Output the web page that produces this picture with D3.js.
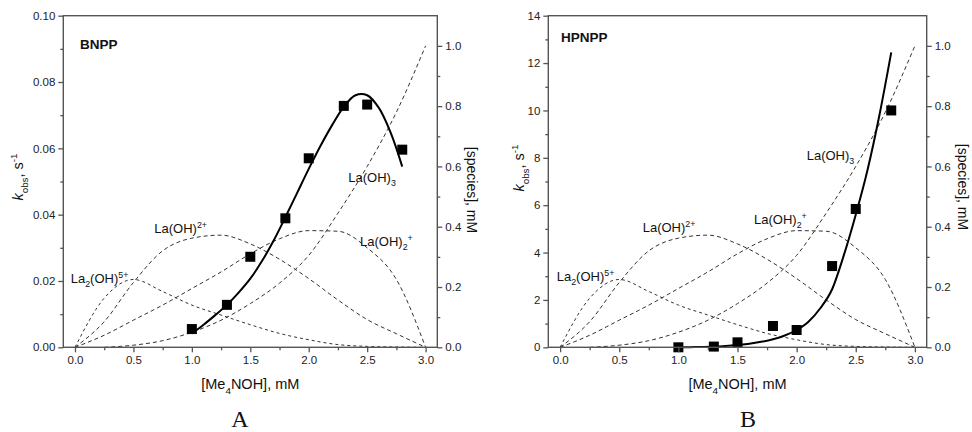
<!DOCTYPE html>
<html>
<head>
<meta charset="utf-8">
<script src="https://cdn.jsdelivr.net/npm/d3@7"></script>
<style>
  body { margin: 0; background: #fff; }
  text { font-family: "Liberation Sans", Arial, sans-serif; }
</style>
</head>
<body>
<svg id="chart" width="972" height="432"></svg>
<script>
// ---- Speciation of La(III) vs. added Me4NOH (right axis, mM) ----
const speciesX = [0, 0.25, 0.5, 0.75, 1.0, 1.25, 1.5, 1.75, 2.0, 2.25, 2.5, 2.75, 3.0];
const la2OH5   = [0, 0.163, 0.225, 0.185, 0.14, 0.107, 0.075, 0.046, 0.025, 0.009, 0.003, 0.001, 0];
const laOH2    = [0, 0.085, 0.215, 0.32, 0.362, 0.372, 0.343, 0.292, 0.228, 0.157, 0.092, 0.045, 0];
const laOH2p   = [0, 0.04, 0.09, 0.14, 0.195, 0.25, 0.31, 0.36, 0.387, 0.385, 0.33, 0.225, 0];
const laOH3    = [null, 0, 0.007, 0.022, 0.05, 0.09, 0.145, 0.213, 0.305, 0.445, 0.6, 0.78, 1.0];

// ---- Observed rate constants (left axis) ----
const baseX     = [1.0, 1.3, 1.5, 1.8, 2.0, 2.3, 2.5, 2.8];
const bnppKobs  = [0.0055, 0.0128, 0.0273, 0.0389, 0.057, 0.0728, 0.0732, 0.0596];
const hpnppKobs = [0.0, 0.03, 0.21, 0.9, 0.73, 3.43, 5.84, 10.0];

// ---- Fitted curves ----
const fitX     = [1.0, 1.1, 1.2, 1.3, 1.4, 1.5, 1.6, 1.7, 1.8, 1.9, 2.0, 2.1, 2.2, 2.3, 2.4, 2.5, 2.6, 2.7, 2.8];
const bnppFit  = [0.0042, 0.0068, 0.0097, 0.0128, 0.0165, 0.0207, 0.026, 0.0322, 0.0392, 0.0465, 0.0538, 0.0607, 0.0670, 0.0725, 0.0760, 0.0760, 0.0722, 0.0648, 0.0545];
const hpnppFit = [0, 0.005, 0.015, 0.03, 0.06, 0.1, 0.15, 0.23, 0.34, 0.5, 0.73, 1.08, 1.65, 2.45, 3.9, 5.6, 7.5, 9.8, 12.45];

// ---- Axis ticks ----
const xMajor = [0, 0.5, 1.0, 1.5, 2.0, 2.5, 3.0];
const xMinor = [0.25, 0.75, 1.25, 1.75, 2.25, 2.75];
const rMajor = [0, 0.2, 0.4, 0.6, 0.8, 1.0];
const rMinor = [0.1, 0.3, 0.5, 0.7, 0.9];
const bnppMajor = [0, 0.02, 0.04, 0.06, 0.08, 0.10];
const bnppMinor = [0.01, 0.03, 0.05, 0.07, 0.09];
const hpnppMajor = [0, 2, 4, 6, 8, 10, 12, 14];
const hpnppMinor = [1, 3, 5, 7, 9, 11, 13];

const svg = d3.select("#chart");

// text with sub/superscript parts: [text, kind] where kind is "", "sub", "sup", "i"
function rich(g, x, y, parts, size, attrs = {}) {
  const t = g.append("text").attr("x", x).attr("y", y).attr("font-size", size).attr("fill", "#111");
  Object.entries(attrs).forEach(([k, v]) => t.attr(k, v));
  let shift = 0;
  parts.forEach(([s, kind]) => {
    const sp = t.append("tspan").text(s);
    let target = 0;
    if (kind === "sub") { target = size * 0.32; sp.attr("font-size", size * 0.68); }
    else if (kind === "sup") { target = -size * 0.42; sp.attr("font-size", size * 0.68); }
    else if (kind === "i") { sp.attr("font-style", "italic"); }
    if (target !== shift) { sp.attr("dy", target - shift); shift = target; }
  });
  return t;
}

function panel(cfg) {
  const g = svg.append("g");
  const x = d3.scaleLinear().domain([-0.1, 3.1]).range([cfg.left, cfg.right]);
  const yL = d3.scaleLinear().domain(cfg.yDomain).range([cfg.bottom, cfg.top]);
  const yR = d3.scaleLinear().domain([0, 1.1]).range([cfg.bottom, cfg.top]);

  // species (dashed)
  const sLine = d3.line().defined(d => d[1] !== null)
    .x(d => x(d[0])).y(d => yR(d[1])).curve(d3.curveMonotoneX);
  [la2OH5, laOH2, laOH2p, laOH3].forEach((arr, i) => {
    g.append("path")
      .attr("d", sLine(speciesX.map((v, j) => [v, arr[j]])))
      .attr("fill", "none").attr("stroke", "#333").attr("stroke-width", 1)
      .attr("stroke-dasharray", i === 0 ? "3,3" : "4,3");
  });

  // fitted curve
  const fLine = d3.line().x(d => x(d[0])).y(d => yL(d[1])).curve(cfg.fitCurve);
  g.append("path")
    .attr("d", fLine(fitX.map((v, j) => [v, cfg.fit[j]])))
    .attr("fill", "none").attr("stroke", "#000").attr("stroke-width", 2);

  // data squares
  const sq = 10;
  g.selectAll("rect.pt").data(baseX.map((v, j) => [v, cfg.obs[j]])).join("rect")
    .attr("x", d => x(d[0]) - sq / 2).attr("y", d => yL(d[1]) - sq / 2)
    .attr("width", sq).attr("height", sq).attr("fill", "#000");

  // axes
  const fontSize = 11.5;
  function styleAxis(sel) {
    sel.select(".domain").remove();
    sel.selectAll("line").attr("stroke", "#555").attr("stroke-width", 1.3);
    sel.selectAll("text").attr("font-size", fontSize).attr("fill", "#222")
      .attr("font-family", null);
  }
  g.append("g").attr("transform", `translate(0,${cfg.bottom})`)
    .call(d3.axisBottom(x).tickValues(xMajor).tickSize(5).tickPadding(4).tickFormat(d3.format(".1f"))).call(styleAxis);
  g.append("g").attr("transform", `translate(0,${cfg.bottom})`)
    .call(d3.axisBottom(x).tickValues(xMinor).tickSize(3).tickFormat("")).call(styleAxis);
  g.append("g").attr("transform", `translate(${cfg.left},0)`)
    .call(d3.axisLeft(yL).tickValues(cfg.yMajor).tickSize(5).tickPadding(3).tickFormat(cfg.yFormat)).call(styleAxis);
  g.append("g").attr("transform", `translate(${cfg.left},0)`)
    .call(d3.axisLeft(yL).tickValues(cfg.yMinor).tickSize(3).tickFormat("")).call(styleAxis);
  g.append("g").attr("transform", `translate(${cfg.right},0)`)
    .call(d3.axisRight(yR).tickValues(rMajor).tickSize(5).tickPadding(3).tickFormat(d3.format(".1f"))).call(styleAxis);
  g.append("g").attr("transform", `translate(${cfg.right},0)`)
    .call(d3.axisRight(yR).tickValues(rMinor).tickSize(3).tickFormat("")).call(styleAxis);

  // frame
  g.append("rect").attr("x", cfg.left).attr("y", cfg.top)
    .attr("width", cfg.right - cfg.left).attr("height", cfg.bottom - cfg.top)
    .attr("fill", "none").attr("stroke", "#555").attr("stroke-width", 1.4);

  // titles
  g.append("text").attr("x", cfg.tagX).attr("y", cfg.tagY).attr("font-size", 13.5)
    .attr("font-weight", "bold").attr("fill", "#111").text(cfg.tag);

  const cx = (cfg.left + cfg.right) / 2;
  rich(g, cx, 389, [["[Me", ""], ["4", "sub"], ["NOH], mM", ""]], 14.5, { "text-anchor": "middle" });

  const yl = rich(g, 0, 0, [["k", "i"], ["obs", "sub"], [", s", ""], ["-1", "sup"]], 14.5, { "text-anchor": "middle" });
  yl.attr("transform", `translate(${cfg.yLabelX},${cfg.yLabelY}) rotate(-90)`);

  const yr = rich(g, 0, 0, [["[species], mM", ""]], 14, { "text-anchor": "middle" });
  yr.attr("transform", `translate(${cfg.rLabelX},${cfg.rLabelY}) rotate(90)`);

  // species labels
  const L = cfg.labels;
  rich(g, L.la2[0], L.la2[1], [["La", ""], ["2", "sub"], ["(OH)", ""], ["5+", "sup"]], 13);
  rich(g, L.laOH[0], L.laOH[1], [["La(OH)", ""], ["2+", "sup"]], 13);
  rich(g, L.laOH2[0], L.laOH2[1], [["La(OH)", ""], ["2", "sub"], ["+", "sup"]], 13);
  rich(g, L.laOH3[0], L.laOH3[1], [["La(OH)", ""], ["3", "sub"]], 13);

  svg.append("text").attr("x", cfg.letterX).attr("y", 427).attr("text-anchor", "middle")
    .style("font-family", "'Liberation Serif', 'Times New Roman', serif").attr("font-size", 24)
    .attr("fill", "#111").text(cfg.letter);
}

panel({
  left: 63.3, right: 437.3, top: 15.7, bottom: 347.3,
  yDomain: [0, 0.10], yMajor: bnppMajor, yMinor: bnppMinor, yFormat: d3.format(".2f"),
  fit: bnppFit, obs: bnppKobs, fitCurve: d3.curveCatmullRom.alpha(0.5),
  tag: "BNPP", tagX: 80, tagY: 49,
  yLabelX: 23, yLabelY: 177, rLabelX: 467, rLabelY: 190,
  labels: { la2: [70.7, 283], laOH: [154.3, 233], laOH2: [360, 246], laOH3: [348.3, 182] },
  letter: "A", letterX: 240
});

panel({
  left: 548.3, right: 926.7, top: 15.7, bottom: 347.3,
  yDomain: [0, 14], yMajor: hpnppMajor, yMinor: hpnppMinor, yFormat: d3.format("d"),
  fit: hpnppFit, obs: hpnppKobs, fitCurve: d3.curveMonotoneX,
  tag: "HPNPP", tagX: 561, tagY: 41.5,
  yLabelX: 524, yLabelY: 168, rLabelX: 958, rLabelY: 187,
  labels: { la2: [556.7, 281], laOH: [642.7, 232], laOH2: [754, 224], laOH3: [806.7, 160] },
  letter: "B", letterX: 748
});
</script>
</body>
</html>
